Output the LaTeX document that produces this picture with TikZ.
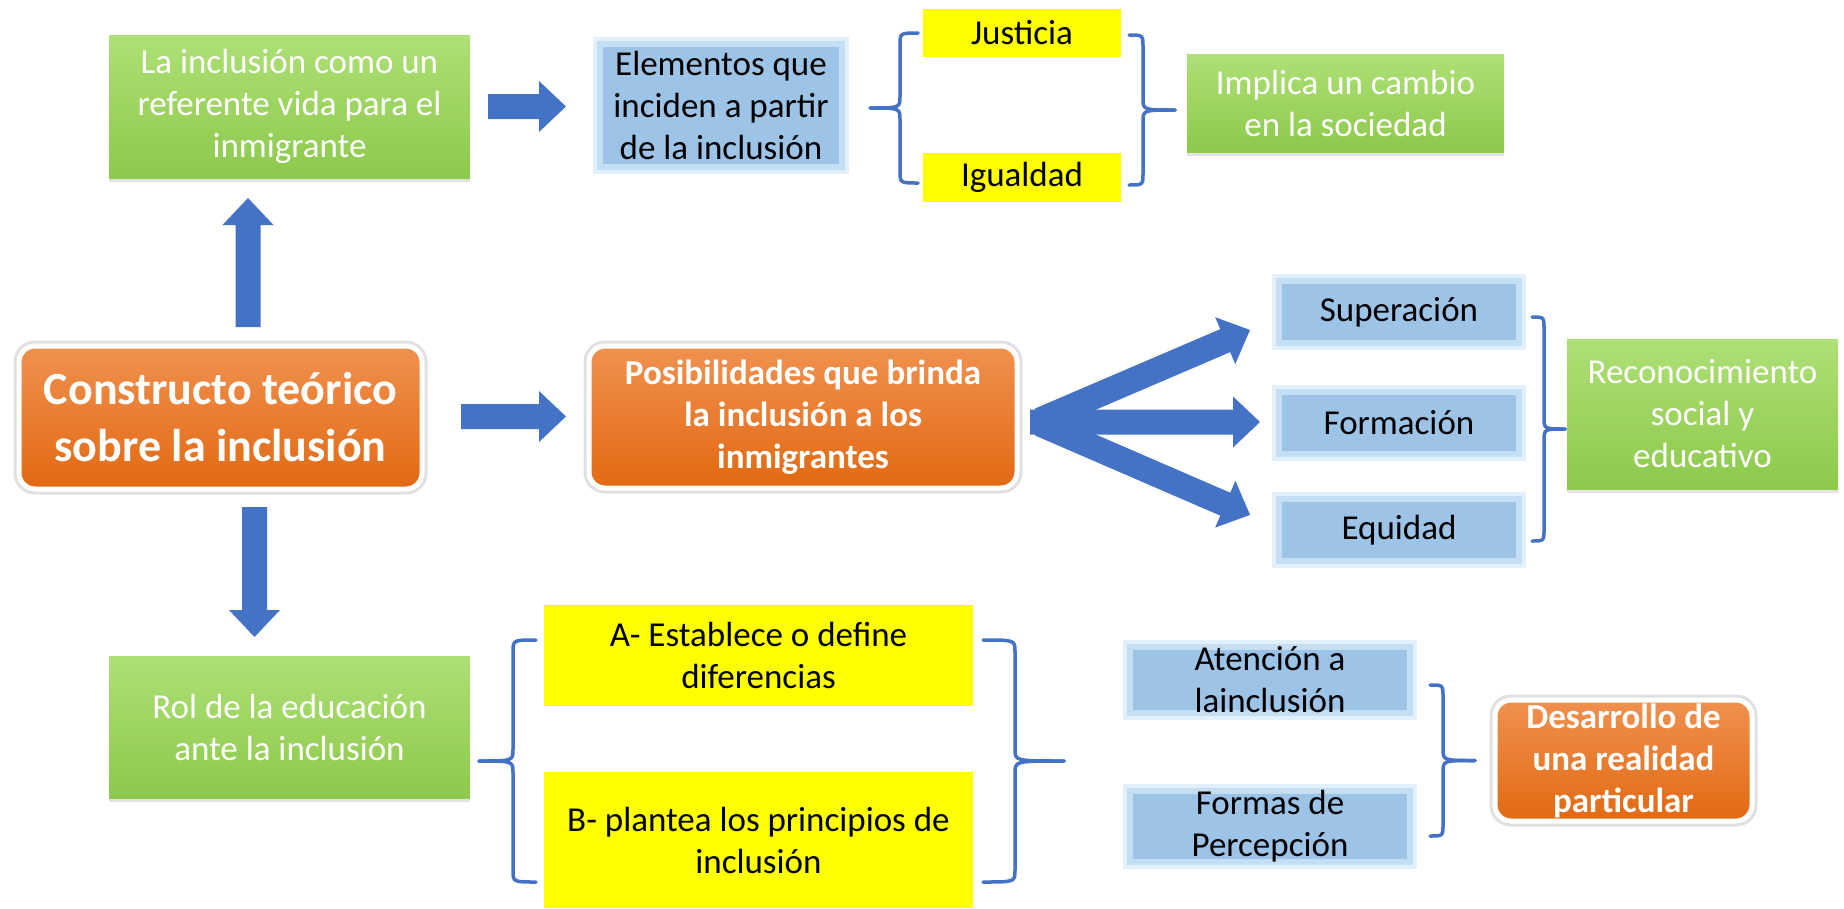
\documentclass[tikz,border=0pt]{standalone}
\usepackage{fontspec}
\setmainfont{Carlito}
\usetikzlibrary{shadows,calc}
\definecolor{arrowblue}{HTML}{4472C4}
\definecolor{greentop}{HTML}{AEE076}
\definecolor{greenbot}{HTML}{8DC94C}
\definecolor{orangetop}{HTML}{F0914F}
\definecolor{orangebot}{HTML}{E26912}
\definecolor{boxblue}{HTML}{9DC3E6}
\definecolor{blueedge}{HTML}{C4DEF4}
\definecolor{blueglow}{HTML}{E2F0FB}
\definecolor{boxyellow}{HTML}{FFFF00}
\tikzset{
  txt/.style={font=\fontsize{35}{42}\selectfont, align=center, inner sep=0pt},
  greenbox/.style={txt, text=white, top color=greentop, bottom color=greenbot,
    drop shadow={shadow xshift=0pt, shadow yshift=-4pt, opacity=0.18, fill=black!60}},
  bluebox/.style={txt, text=black, fill=boxblue, draw=blueedge, line width=6pt,
    preaction={draw=blueglow, line width=14pt}},
  yellowbox/.style={txt, text=black, fill=boxyellow},
  orangebox/.style={txt, text=white, font=\fontsize{35}{42}\selectfont\bfseries,
    rounded corners=16pt, top color=orangetop, bottom color=orangebot,
    draw=white, line width=5pt, preaction={draw=black!12, line width=11pt}},
  bracestyle/.style={draw=arrowblue, line width=3.5pt, line cap=round, line join=round},
}
% block arrow: x, y, angle, length
\newcommand\barrow[4]{\fill[arrowblue, shift={(#1,#2)}, rotate=#3]
  (0,-12.5) -- (#4-27,-12.5) -- (#4-27,-25.5) -- (#4,0) -- (#4-27,25.5) -- (#4-27,12.5) -- (0,12.5) -- cycle;}
% brace: tip x, vertical x, end x, top y, bottom y
\newcommand\brk[5]{%
  \pgfmathsetmacro\brkmid{(#4+#5)/2}%
  \draw[bracestyle] (#3,#4) .. controls (#2,#4) .. (#2,#4-12) -- (#2,\brkmid+12) .. controls (#2,\brkmid) .. (#1,\brkmid);
  \draw[bracestyle] (#1,\brkmid) .. controls (#2,\brkmid) .. (#2,\brkmid-12) -- (#2,#5+12) .. controls (#2,#5) .. (#3,#5);}
\begin{document}
\begin{tikzpicture}[x=1pt, y=1pt]
\useasboundingbox (0,0) rectangle (1844,-908);
\fill[white] (0,0) rectangle (1844,-908);

% top row
\node[greenbox, minimum width=361, minimum height=143] (g1) at (289.5,-106.5)
  {La inclusión como un\\referente vida para el\\inmigrante};
\node[bluebox, minimum width=242, minimum height=123] (b1) at (721,-105.5)
  {Elementos que\\inciden a partir\\de la inclusión};
\node[yellowbox, minimum width=198, minimum height=48] (yj) at (1022,-33) {Justicia};
\node[yellowbox, minimum width=198, minimum height=49] (yi) at (1022,-177.5) {Igualdad};
\node[greenbox, minimum width=317, minimum height=98] (g2) at (1345.5,-103)
  {Implica un cambio\\en la sociedad};

% middle row
\node[orangebox, font=\fontsize{46}{57}\selectfont\bfseries, minimum width=403, minimum height=143] (o1) at (220.5,-417.5)
  {Constructo teórico\\sobre la inclusión};
\node[orangebox, minimum width=428, minimum height=142] (o2) at (803,-417)
  {Posibilidades que brinda\\la inclusión a los\\inmigrantes};
\node[bluebox, minimum width=240, minimum height=62] (bs) at (1399,-312) {Superación};
\node[bluebox, minimum width=240, minimum height=62] (bf) at (1399,-423) {Formación};
\node[bluebox, minimum width=240, minimum height=62] (be) at (1399,-530) {Equidad};
\node[greenbox, minimum width=271, minimum height=150] (g3) at (1702.5,-414)
  {Reconocimiento\\social y\\educativo};

% bottom row
\node[greenbox, minimum width=361, minimum height=142] (g4) at (289.5,-727)
  {Rol de la educación\\ante la inclusión};
\node[yellowbox, minimum width=429, minimum height=101] (ya) at (758.5,-655.5)
  {A- Establece o define\\diferencias};
\node[yellowbox, minimum width=429, minimum height=136] (yb) at (758.5,-840)
  {B- plantea los principios de\\inclusión};
\node[bluebox, minimum width=280, minimum height=62] (ba) at (1270,-680)
  {Atención a\\lainclusión};
\node[bluebox, minimum width=280, minimum height=62] (bp) at (1270,-826.5)
  {Formas de\\Percepción};
\node[orangebox, minimum width=257, minimum height=121] (o3) at (1623.5,-760.5)
  {Desarrollo de\\una realidad\\particular};

% block arrows
\barrow{248}{-327}{90}{129}
\barrow{488}{-106.5}{0}{78}
\barrow{461}{-416.5}{0}{105}
\barrow{254.5}{-507}{-90}{130}
\barrow{1040}{-420}{23.2}{228.5}
\barrow{1030}{-422}{0}{230}
\barrow{1040}{-424}{-23.4}{228.9}

% braces
\brk{870}{900}{918}{-33}{-183}
\brk{1175}{1143}{1129}{-35}{-185}
\brk{1565}{1544}{1532}{-317}{-541}
\brk{479}{513}{536}{-640}{-882}
\brk{1064}{1015}{983}{-640}{-882}
\brk{1475}{1443}{1430}{-685}{-836}
\end{tikzpicture}
\end{document}
